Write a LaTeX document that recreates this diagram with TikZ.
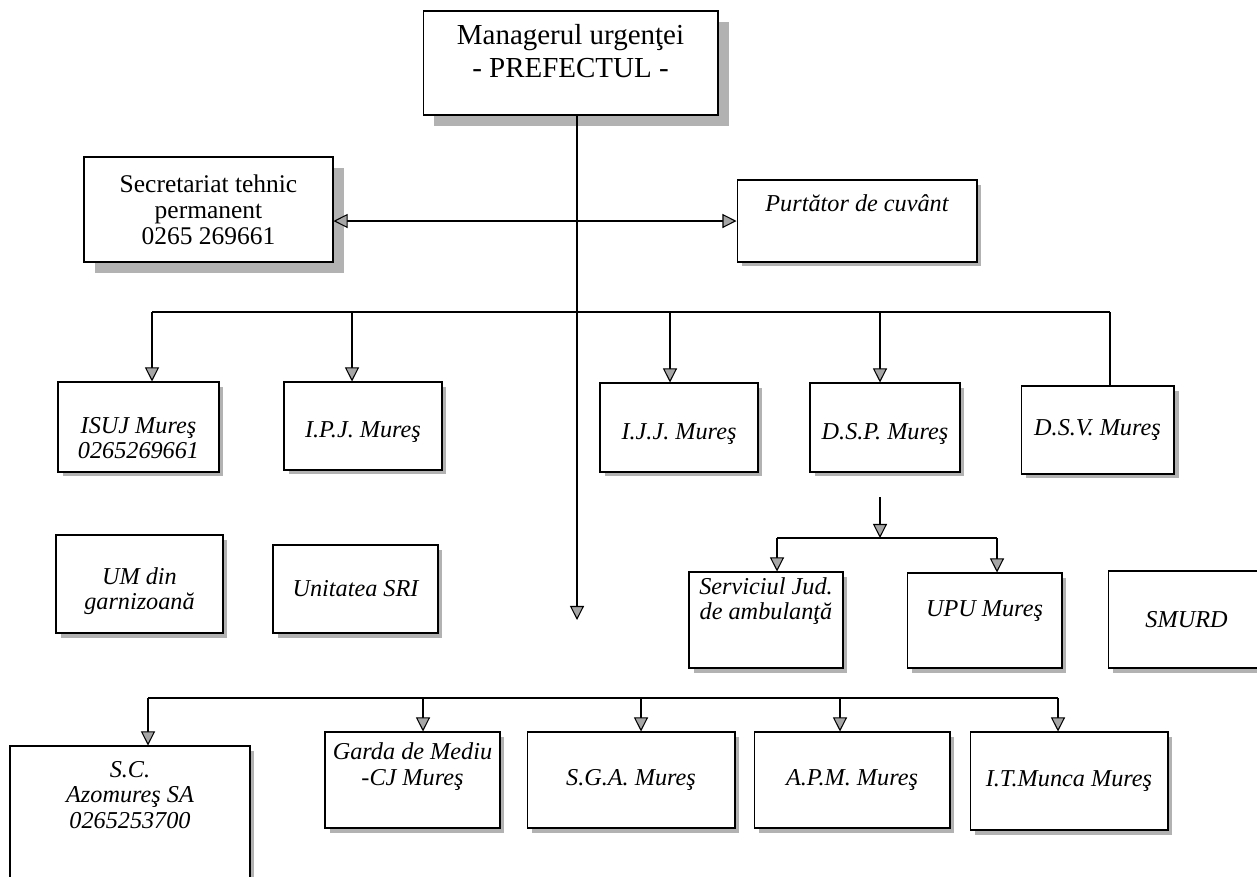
\documentclass[tikz,border=0pt]{standalone}
\usepackage{fontspec}
\setmainfont{Liberation Serif}
\usetikzlibrary{arrows.meta, shadows}

\begin{document}
\begin{tikzpicture}[
    x=0.02cm, y=-0.02cm,
    line width=0.6pt,
    box/.style={rectangle, draw, fill=white, align=center, inner sep=2pt,
        font=\fontsize{13.8}{14.4}\selectfont\itshape,
        drop shadow={shadow xshift=0.09cm, shadow yshift=-0.09cm, fill=gray!60, opacity=1}},
    bigbox/.style={rectangle, draw, fill=white, align=center, inner sep=2pt,
        font=\fontsize{14.5}{14.8}\selectfont,
        drop shadow={shadow xshift=0.22cm, shadow yshift=-0.22cm, fill=gray!60, opacity=1}},
    line/.style={draw, -{Triangle[length=8pt, width=8pt, fill=gray!70]}},
    dline/.style={draw, {Triangle[length=8pt, width=8pt, fill=gray!70]}-{Triangle[length=8pt, width=8pt, fill=gray!70]}}
]
    \useasboundingbox (0,0) rectangle (1257,876);

    % Manager and staff
    \node [bigbox, minimum width=5.9cm, minimum height=2.08cm, font=\fontsize{16.5}{18.7}\selectfont] (prefect) at (570.5,63) {Managerul urgenţei\\- PREFECTUL -\rule[-14pt]{0pt}{14pt}};
    \node [bigbox, minimum width=4.98cm, minimum height=2.1cm] (secretariat) at (208.5,209.5) {Secretariat tehnic\\permanent\\0265 269661};
    \node [box, minimum width=4.8cm, minimum height=1.64cm, text height=9pt, text depth=20pt] (purtator) at (857,221) {Purtător de cuvânt};

    % First level
    \node [box, minimum width=3.22cm, minimum height=1.8cm] (isuj) at (138.5,427) {\rule{0pt}{22pt}ISUJ Mureş\\0265269661};
    \node [box, minimum width=3.16cm, minimum height=1.76cm, text height=15.8pt, text depth=3pt] (ipj) at (363,426) {I.P.J. Mureş};
    \node [box, minimum width=3.16cm, minimum height=1.78cm, text height=17pt, text depth=3pt] (ijj) at (679,427.5) {I.J.J. Mureş};
    \node [box, minimum width=3.0cm, minimum height=1.78cm, text height=17pt, text depth=3pt] (dsp) at (885,427.5) {D.S.P. Mureş};
    \node [box, minimum width=3.06cm, minimum height=1.76cm] (dsv) at (1097.5,430) {D.S.V. Mureş};

    % Second level
    \node [box, minimum width=3.34cm, minimum height=1.96cm] (um) at (139.5,584) {\rule{0pt}{18pt}UM din\\garnizoană};
    \node [box, minimum width=3.3cm, minimum height=1.76cm] (sri) at (355.5,589) {Unitatea SRI};
    \node [box, minimum width=3.08cm, minimum height=1.92cm] (ambulanta) at (766,620) {Serviciul Jud.\\de ambulanţă\rule[-24pt]{0pt}{24pt}};
    \node [box, minimum width=3.1cm, minimum height=1.9cm, text height=9pt, text depth=14pt] (upu) at (984.5,620.5) {UPU Mureş};
    \node [box, minimum width=3.14cm, minimum height=1.94cm] (smurd) at (1186.5,619.5) {SMURD};

    % Bottom level
    \node [box, minimum width=4.8cm, minimum height=2.8cm] (azomures) at (130,816) {S.C.\\Azomureş SA\\0265253700\rule[-24pt]{0pt}{24pt}};
    \node [box, minimum width=3.5cm, minimum height=1.92cm] (garda) at (412.5,780) {Garda de Mediu\\-CJ Mureş\rule[-18pt]{0pt}{18pt}};
    \node [box, minimum width=4.16cm, minimum height=1.92cm] (sga) at (631,780) {S.G.A. Mureş};
    \node [box, minimum width=3.92cm, minimum height=1.92cm] (apm) at (852,780) {A.P.M. Mureş};
    \node [box, minimum width=3.96cm, minimum height=1.96cm] (itm) at (1069,781) {I.T.Munca Mureş};

    % Bus points
    \coordinate (mainend) at (577,620);
    \coordinate (jisuj) at (152,312);
    \coordinate (jipj) at (352,312);
    \coordinate (jijj) at (670,312);
    \coordinate (jdsp) at (880,312);
    \coordinate (jdsv) at (1110,312);
    \coordinate (dspstub) at (880,497);
    \coordinate (jstub) at (880,538);
    \coordinate (jamb) at (777,538);
    \coordinate (jupu) at (997,538);
    \coordinate (jaz) at (148,698);
    \coordinate (jgarda) at (423,698);
    \coordinate (jsga) at (641,698);
    \coordinate (japm) at (840,698);
    \coordinate (jitm) at (1058,698);

    % Main line
    \path [line] (prefect.south -| mainend) -- (mainend);
    \path [dline] (secretariat.east |- purtator.west) -- (purtator.west);

    % First level connections
    \draw (jisuj) -- (jdsv);
    \path [line] (jisuj) -- (jisuj |- isuj.north);
    \path [line] (jipj) -- (jipj |- ipj.north);
    \path [line] (jijj) -- (jijj |- ijj.north);
    \path [line] (jdsp) -- (jdsp |- dsp.north);
    \draw (jdsv) -- (jdsv |- dsv.north);

    % D.S.P. connections
    \path [line] (dspstub) -- (jstub);
    \draw (jamb) -- (jupu);
    \path [line] (jamb) -- (jamb |- ambulanta.north);
    \path [line] (jupu) -- (jupu |- upu.north);

    % Bottom connections
    \draw (jaz) -- (jitm);
    \path [line] (jaz) -- (jaz |- azomures.north);
    \path [line] (jgarda) -- (jgarda |- garda.north);
    \path [line] (jsga) -- (jsga |- sga.north);
    \path [line] (japm) -- (japm |- apm.north);
    \path [line] (jitm) -- (jitm |- itm.north);

\end{tikzpicture}
\end{document}
